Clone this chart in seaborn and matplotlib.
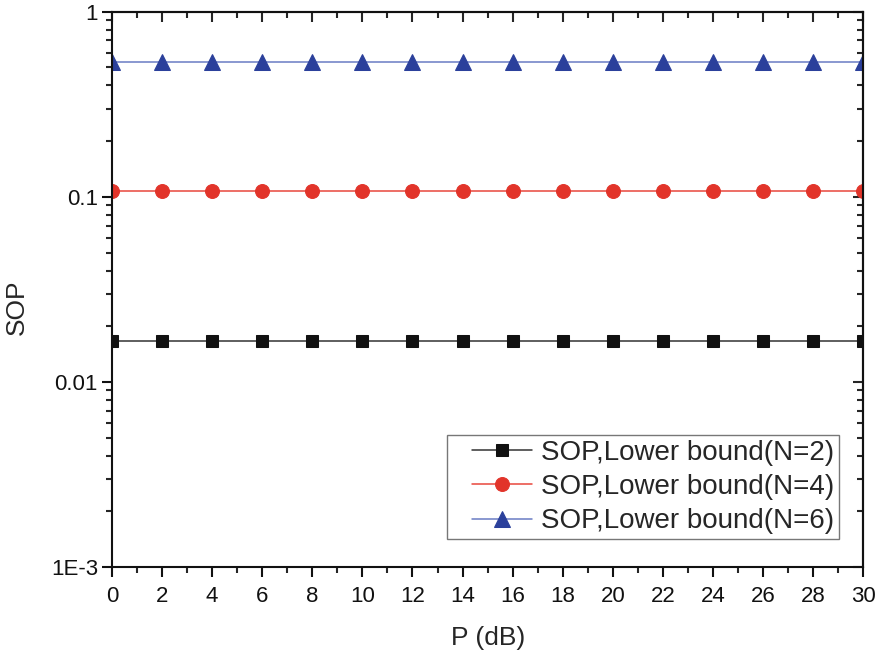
import numpy as np
import pandas as pd
import matplotlib
matplotlib.use('Agg')
import matplotlib.pyplot as plt
import seaborn as sns
from matplotlib.legend_handler import HandlerLine2D
from matplotlib.ticker import FixedLocator, FixedFormatter, LogLocator, NullFormatter, MultipleLocator

sns.set_style('ticks')
plt.rcParams['font.family'] = ['Liberation Sans', 'DejaVu Sans']

# data
p_db = [0, 2, 4, 6, 8, 10, 12, 14, 16, 18, 20, 22, 24, 26, 28, 30]
sop_n2 = [0.0167] * 16
sop_n4 = [0.108] * 16
sop_n6 = [0.537] * 16
labels = ['SOP,Lower bound(N=2)', 'SOP,Lower bound(N=4)', 'SOP,Lower bound(N=6)']
ytick_vals = [1e-3, 1e-2, 1e-1, 1]
ytick_labels = ['1E-3', '0.01', '0.1', '1']

fig = plt.figure(figsize=(8.81, 6.54), dpi=100)
ax = fig.add_axes([0.127, 0.133, 0.853, 0.849])

series = [
    (sop_n2, labels[0], '#111111', '#333333', 's', 9),
    (sop_n4, labels[1], '#e2342a', '#e8473c', 'o', 10),
    (sop_n6, labels[2], '#2b409b', '#6a7cc4', '^', 11),
]
for vals, lab, mcol, lcol, mk, ms in series:
    df = pd.DataFrame({'P': p_db, 'SOP': vals})
    sns.lineplot(data=df, x='P', y='SOP', ax=ax, color=lcol, linewidth=1.1,
                 marker=mk, markersize=ms, markerfacecolor=mcol,
                 markeredgecolor=mcol, label=lab)

ax.set_yscale('log')
ax.set_xlim(0, 30)
ax.set_ylim(1e-3, 1)
ax.xaxis.set_major_locator(MultipleLocator(2))
ax.xaxis.set_minor_locator(MultipleLocator(1))
ax.yaxis.set_major_locator(FixedLocator(ytick_vals))
ax.yaxis.set_major_formatter(FixedFormatter(ytick_labels))
ax.yaxis.set_minor_locator(LogLocator(base=10, subs=np.arange(2, 10)))
ax.yaxis.set_minor_formatter(NullFormatter())

ax.tick_params(which='both', bottom=True, left=True, top=False, right=False)
ax.tick_params(which='major', direction='out', length=7, width=1.5, labelsize=16,
               colors='#111111')
ax.tick_params(which='minor', direction='out', length=4, width=1.5)
ax.tick_params(axis='x', pad=7)
ax.tick_params(axis='y', pad=3)

# mirrored axes with inward ticks on top and right
top = ax.secondary_xaxis('top')
top.xaxis.set_major_locator(MultipleLocator(2))
top.xaxis.set_minor_locator(MultipleLocator(1))
top.tick_params(which='major', direction='in', length=7, width=1.5, labeltop=False)
top.tick_params(which='minor', direction='in', length=4, width=1.5)
right = ax.secondary_yaxis('right')
right.yaxis.set_major_locator(FixedLocator(ytick_vals))
right.yaxis.set_minor_locator(LogLocator(base=10, subs=np.arange(2, 10)))
right.yaxis.set_minor_formatter(NullFormatter())
right.tick_params(which='major', direction='in', length=7, width=1.5, labelright=False)
right.tick_params(which='minor', direction='in', length=4, width=1.5)

for sp in list(ax.spines.values()) + [top.spines['top'], right.spines['right']]:
    sp.set_linewidth(1.5)
    sp.set_color('#111111')

ax.set_xlabel('P (dB)', fontsize=19, labelpad=13)
ax.set_ylabel('SOP', fontsize=19)
ax.yaxis.set_label_coords(-0.11, 0.468)

handlers = {h: HandlerLine2D(xpad=0.75) for h in ax.get_lines()}
leg = ax.legend(loc='lower right', bbox_to_anchor=(0.968, 0.05), fontsize=20,
                frameon=True, fancybox=False, borderpad=0.18, labelspacing=0.3,
                handlelength=2.9, handletextpad=0.32, borderaxespad=0,
                handler_map=handlers)
leg.get_frame().set_edgecolor('#555555')
leg.get_frame().set_linewidth(1.0)

fig.savefig('out.png', dpi=100)
